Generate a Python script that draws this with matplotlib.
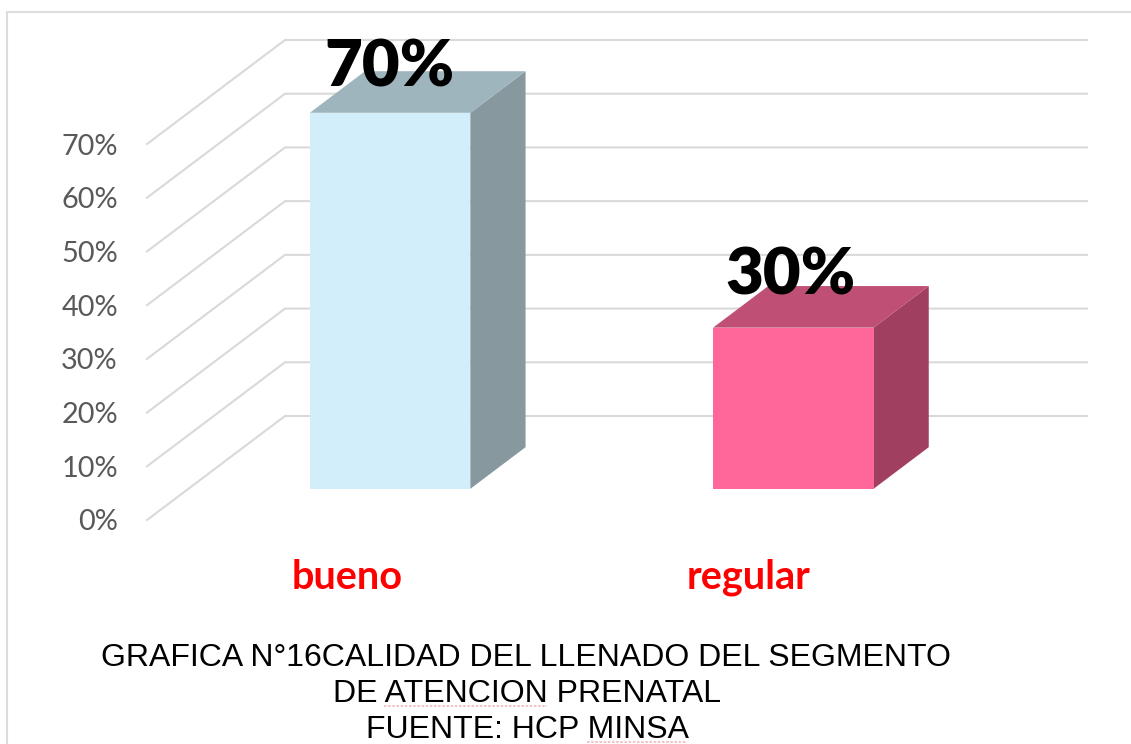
import matplotlib
matplotlib.use("Agg")
import matplotlib.pyplot as plt
from matplotlib.patches import Polygon

categories = ["bueno", "regular"]
values = [70, 30]
bar_labels = ["70%", "30%"]
y_ticks = [0, 10, 20, 30, 40, 50, 60, 70]
y_tick_labels = ["0%", "10%", "20%", "30%", "40%", "50%", "60%", "70%"]
caption_lines = ["GRAFICA N°16CALIDAD DEL LLENADO DEL SEGMENTO",
                 "DE ATENCION PRENATAL",
                 "FUENTE: HCP MINSA"]

W, H = 1131, 744
front_colors = ["#D2EEFB", "#FF6699"]
top_colors = ["#9FB5BD", "#C04F76"]
side_colors = ["#87999F", "#A03F60"]
GRID = "#D9D9D9"

fig = plt.figure(figsize=(W / 100, H / 100), dpi=100, facecolor="white")

# frame of the pasted picture
fig.add_artist(plt.Line2D([6.5 / W, 6.5 / W, 1], [0, 1 - 11.5 / H, 1 - 11.5 / H],
                          color="#DCDCDC", lw=1.5, transform=fig.transFigure))

# front plane of the oblique 3D box, in figure pixels
L, R, B, T = 147, 949, 520, 144
ax = fig.add_axes([L / W, 1 - B / H, (R - L) / W, (B - T) / H])
ax.set_xlim(-0.5, 1.5)
ax.set_ylim(0, 70)
ax.patch.set_alpha(0)
for s in ax.spines.values():
    s.set_visible(False)

ux = (R - L) / 2          # pixels per category
uy = (B - T) / 70         # pixels per percent
depth_x = 138 / ux        # full depth in data units
depth_y = 104 / uy

def project(x, v, d):
    return (x + d * depth_x, v + d * depth_y)

for v in y_ticks:
    p0 = project(-0.5, v, 0)
    p1 = project(-0.5, v, 1)
    p2 = project(1.5, v, 1)
    ax.plot([p0[0], p1[0], p2[0]], [p0[1], p1[1], p2[1]], color=GRID, lw=1.5,
            clip_on=False, zorder=1, solid_joinstyle="miter")

bar_w = 160.5 / ux
d0, d1 = 0.30, 0.70
spread = 1.0055
label_offset_px = [45, 52]
for i, (v, lab) in enumerate(zip(values, bar_labels)):
    xc = i * spread + 0.003
    x0, x1 = xc - bar_w / 2, xc + bar_w / 2
    front = [project(x0, 0, d0), project(x1, 0, d0), project(x1, v, d0), project(x0, v, d0)]
    top = [project(x0, v, d0), project(x1, v, d0), project(x1, v, d1), project(x0, v, d1)]
    side = [project(x1, 0, d0), project(x1, 0, d1), project(x1, v, d1), project(x1, v, d0)]
    ax.add_patch(Polygon(side, closed=True, fc=side_colors[i], ec="none", clip_on=False, zorder=2))
    ax.add_patch(Polygon(top, closed=True, fc=top_colors[i], ec="none", clip_on=False, zorder=2))
    ax.add_patch(Polygon(front, closed=True, fc=front_colors[i], ec="none", clip_on=False, zorder=3))
    lx, ly = project(i, v, 0.30)
    ax.annotate(lab, (lx + 0.002, ly), xytext=(0, label_offset_px[i] * 0.72), textcoords="offset points",
                ha="center", va="center", fontsize=47, fontweight="heavy",
                family="Lato", color="black", zorder=5, annotation_clip=False)

ax.set_yticks(y_ticks, y_tick_labels, family="Lato", fontsize=20.8, color="#595959")
ax.set_xticks(range(len(categories)), categories, family="Lato", fontsize=28.5,
              fontweight="bold", color="#FF0000")
ax.tick_params(axis="both", length=0)
ax.tick_params(axis="y", pad=21)
ax.tick_params(axis="x", pad=28)

# caption
cap_y = [658, 694, 730]
cap_x = [526, 527, 527]
for s, x, y in zip(caption_lines, cap_x, cap_y):
    fig.text(x / W, 1 - y / H, s, ha="center", va="center",
             family="Liberation Sans", fontsize=23, color="black")

# spell-check underlines under two caption words
for x0, x1, y in [(384, 547, 706), (587, 687, 742)]:
    fig.add_artist(plt.Line2D([x0 / W, x1 / W], [1 - y / H] * 2, color="#F2B8B8", lw=1.2,
                              ls=(0, (1.5, 1)), transform=fig.transFigure))

fig.savefig("out.png", dpi=100)
